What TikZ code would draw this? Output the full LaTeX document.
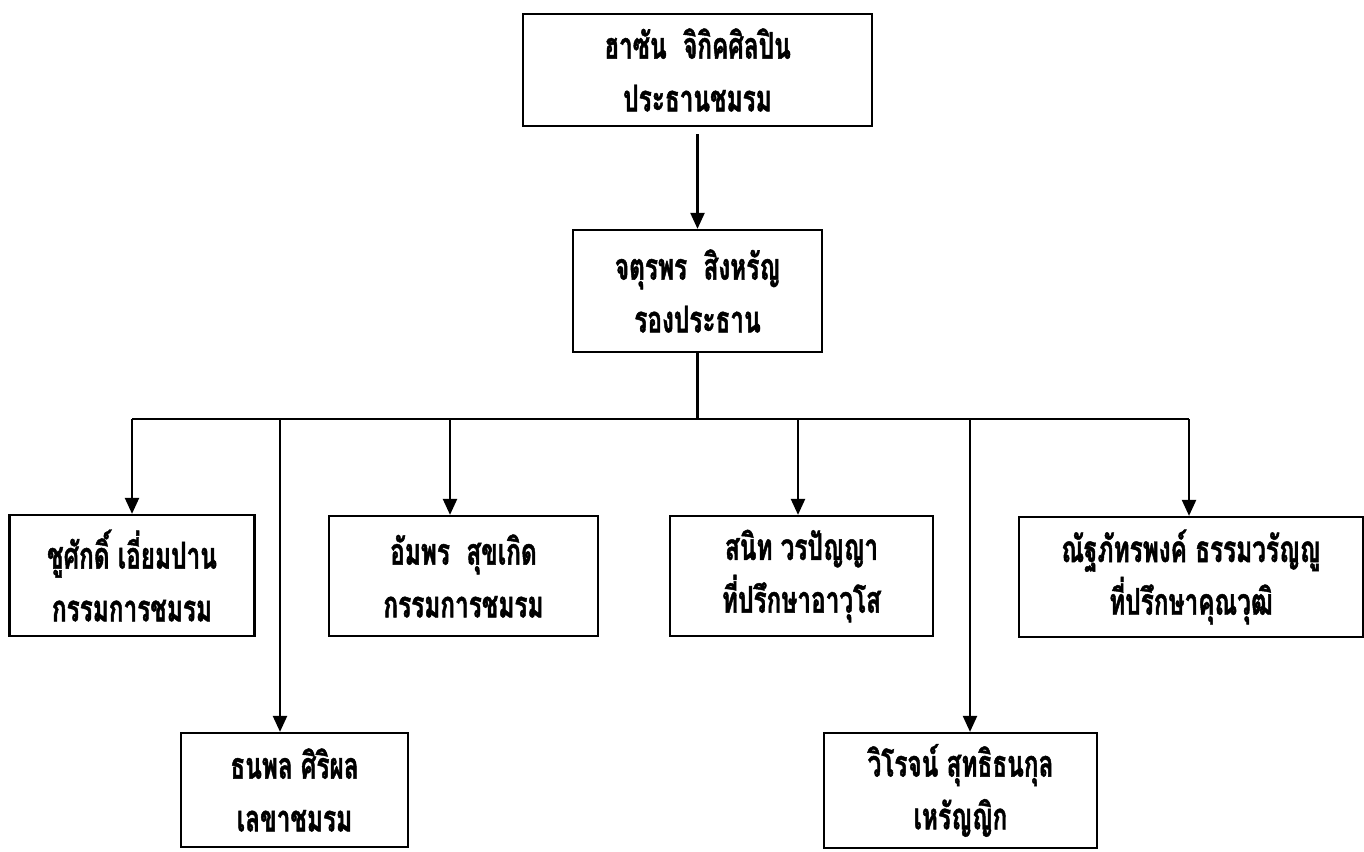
\documentclass[tikz,border=0pt]{standalone}
\usepackage{fontspec}
\newfontfamily\thaifont[Script=Thai,FakeStretch=0.66,FakeBold=1.2]{Loma}
\usetikzlibrary{arrows.meta}

\begin{document}
\begin{tikzpicture}[x=0.02cm,y=-0.02cm,>={Triangle[length=0.32cm,width=0.28cm]},
    box/.style={draw,line width=1.3pt,align=center,inner sep=0pt,
      font=\thaifont\bfseries\fontsize{21}{30}\selectfont},
    link/.style={line width=1.3pt}]
    \useasboundingbox (0,0) rectangle (1364,851);
    \node[box,minimum width=6.98cm,minimum height=2.24cm] (pres)  at (697.5,70)  {ฮาซัน\ \ จิกิคศิลปิน\\ประธานชมรม};
    \node[box,minimum width=4.98cm,minimum height=2.44cm] (vice)  at (697.5,291) {จตุรพร\ \ สิงหรัญ\\รองประธาน};
    \node[box,minimum width=4.90cm,minimum height=2.42cm] (c1)    at (132,575.5) {ชูศักดิ์ เอี่ยมปาน\\กรรมการชมรม};
    \node[box,minimum width=4.54cm,minimum height=2.28cm] (sec)   at (294.5,790) {ธนพล ศิริผล\\เลขาชมรม};
    \node[box,minimum width=5.38cm,minimum height=2.40cm] (c2)    at (463.5,576) {อัมพร\ \ สุขเกิด\\กรรมการชมรม};
    \node[box,minimum width=5.26cm,minimum height=2.40cm] (adv1)  at (801.5,576) {สนิท วรปัญญา\\ที่ปรึกษาอาวุโส};
    \node[box,minimum width=5.46cm,minimum height=2.30cm] (treas) at (960.5,790.5) {วิโรจน์ สุทธิธนกุล\\เหรัญญิก};
    \node[box,minimum width=6.88cm,minimum height=2.40cm] (adv2)  at (1191,577) {ณัฐภัทรพงค์ ธรรมวรัญญู\\ที่ปรึกษาคุณวุฒิ};
    \coordinate (bus) at (697.5,419);
    \draw[link,->,shorten <=0.14cm] (pres) -- (vice);
    \draw[link] (vice) -- (bus);
    \foreach \n/\x in {c1/132,sec/280,c2/450,adv1/798,treas/970,adv2/1189}
        \coordinate (d\n) at (\x,419);
    \draw[link] (dc1) -- (dadv2);
    \foreach \n in {c1,sec,c2,adv1,treas,adv2}
        \draw[link,->] (d\n) -- (d\n |- \n.north);
\end{tikzpicture}
\end{document}
